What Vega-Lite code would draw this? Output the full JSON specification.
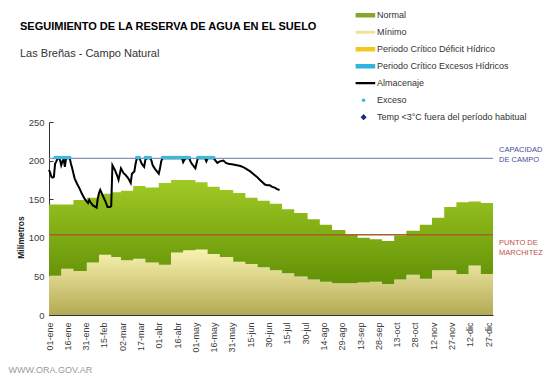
{
  "$schema": "https://vega.github.io/schema/vega-lite/v6.json",
  "width": 444,
  "height": 193,
  "autosize": {"type": "none"},
  "padding": {"left": 49, "top": 122, "right": 59, "bottom": 65},
  "background": "white",
  "config": {
    "font": "Liberation Sans",
    "view": {"stroke": null},
    "axis": {
      "grid": false,
      "domainColor": "#333333",
      "tickColor": "#333333",
      "tickSize": -4,
      "labelColor": "#404040",
      "labelOverlap": false,
      "labelFlush": false
    },
    "axisX": {
      "labelAngle": -90,
      "labelFontSize": 9,
      "labelPadding": 11,
      "titleX": -41,
      "titleY": 57,
      "titleAlign": "left",
      "titleBaseline": "alphabetic",
      "titleFontSize": 9,
      "titleFontWeight": "normal",
      "titleColor": "#9a9a9a"
    },
    "axisY": {
      "labelFontSize": 9.5,
      "labelPadding": 9,
      "titleFontSize": 8.5,
      "titleFontWeight": "bold",
      "titleColor": "#222222",
      "titleX": -29,
      "titleY": 115,
      "titleAngle": -90,
      "titleAlign": "center",
      "titleBaseline": "middle"
    },
    "legend": {
      "orient": "none",
      "legendX": 306.6,
      "legendY": -115,
      "padding": 0,
      "rowPadding": 0,
      "clipHeight": 16.3,
      "symbolSize": 256,
      "symbolStrokeWidth": 0,
      "labelFontSize": 9,
      "labelColor": "#333333",
      "labelOffset": 5.4,
      "labelLimit": 250
    }
  },
  "title": {
    "text": "SEGUIMIENTO DE LA RESERVA DE AGUA EN EL SUELO",
    "subtitle": "Las Breñas - Campo Natural",
    "anchor": "start",
    "frame": "group",
    "dx": -29,
    "fontSize": 11,
    "fontWeight": "bold",
    "color": "#000000",
    "subtitleFontSize": 11,
    "subtitleColor": "#333333",
    "subtitlePadding": 16,
    "offset": -52
  },
  "datasets": {
    "decadas": [
      {"dia": 0, "mx": 143, "mn": 51},
      {"dia": 10, "mx": 143, "mn": 60},
      {"dia": 20, "mx": 149, "mn": 57},
      {"dia": 31, "mx": 152, "mn": 68},
      {"dia": 41, "mx": 157, "mn": 78},
      {"dia": 51, "mx": 159, "mn": 75},
      {"dia": 59, "mx": 161, "mn": 71},
      {"dia": 69, "mx": 167, "mn": 73},
      {"dia": 79, "mx": 165, "mn": 68},
      {"dia": 90, "mx": 171, "mn": 65},
      {"dia": 100, "mx": 175, "mn": 81},
      {"dia": 110, "mx": 175, "mn": 84},
      {"dia": 120, "mx": 172, "mn": 85},
      {"dia": 130, "mx": 166, "mn": 79},
      {"dia": 140, "mx": 162, "mn": 75},
      {"dia": 151, "mx": 158, "mn": 69},
      {"dia": 161, "mx": 152, "mn": 66},
      {"dia": 171, "mx": 148, "mn": 62},
      {"dia": 181, "mx": 144, "mn": 58},
      {"dia": 191, "mx": 137, "mn": 54},
      {"dia": 201, "mx": 132, "mn": 50},
      {"dia": 212, "mx": 124, "mn": 46},
      {"dia": 222, "mx": 117, "mn": 43},
      {"dia": 232, "mx": 110, "mn": 41},
      {"dia": 243, "mx": 104, "mn": 41},
      {"dia": 253, "mx": 100, "mn": 42},
      {"dia": 263, "mx": 98, "mn": 43},
      {"dia": 273, "mx": 96, "mn": 40},
      {"dia": 283, "mx": 103, "mn": 46},
      {"dia": 293, "mx": 109, "mn": 52},
      {"dia": 304, "mx": 117, "mn": 47},
      {"dia": 314, "mx": 126, "mn": 58},
      {"dia": 324, "mx": 140, "mn": 58},
      {"dia": 334, "mx": 146, "mn": 53},
      {"dia": 344, "mx": 147, "mn": 64},
      {"dia": 354, "mx": 145, "mn": 53},
      {"dia": 364, "mx": 145, "mn": 53}
    ],
    "almacenaje": [
      {"dia": 0, "mm": 188}, {"dia": 1, "mm": 184}, {"dia": 2, "mm": 179}, {"dia": 3, "mm": 178},
      {"dia": 4, "mm": 179}, {"dia": 5, "mm": 196}, {"dia": 6, "mm": 199}, {"dia": 7, "mm": 203},
      {"dia": 8, "mm": 203}, {"dia": 9, "mm": 201}, {"dia": 10, "mm": 194}, {"dia": 11, "mm": 199},
      {"dia": 12, "mm": 202}, {"dia": 13, "mm": 192}, {"dia": 14, "mm": 203}, {"dia": 15, "mm": 203},
      {"dia": 16, "mm": 203}, {"dia": 17, "mm": 203}, {"dia": 18, "mm": 196}, {"dia": 19, "mm": 190},
      {"dia": 21, "mm": 177}, {"dia": 23, "mm": 170}, {"dia": 25, "mm": 164}, {"dia": 27, "mm": 157},
      {"dia": 29, "mm": 151}, {"dia": 31, "mm": 147}, {"dia": 32, "mm": 145}, {"dia": 33, "mm": 149},
      {"dia": 34, "mm": 146}, {"dia": 36, "mm": 142}, {"dia": 38, "mm": 140}, {"dia": 39, "mm": 139},
      {"dia": 40, "mm": 151}, {"dia": 41, "mm": 158}, {"dia": 42, "mm": 162}, {"dia": 44, "mm": 155},
      {"dia": 46, "mm": 148}, {"dia": 48, "mm": 140}, {"dia": 50, "mm": 140}, {"dia": 51, "mm": 141},
      {"dia": 52, "mm": 194}, {"dia": 54, "mm": 188}, {"dia": 56, "mm": 180}, {"dia": 57, "mm": 175},
      {"dia": 59, "mm": 190}, {"dia": 61, "mm": 184}, {"dia": 63, "mm": 181}, {"dia": 65, "mm": 177},
      {"dia": 67, "mm": 171}, {"dia": 68, "mm": 183}, {"dia": 70, "mm": 186}, {"dia": 71, "mm": 196},
      {"dia": 72, "mm": 203}, {"dia": 73, "mm": 203}, {"dia": 74, "mm": 203}, {"dia": 75, "mm": 200},
      {"dia": 76, "mm": 196}, {"dia": 78, "mm": 192}, {"dia": 79, "mm": 201}, {"dia": 80, "mm": 203},
      {"dia": 81, "mm": 203}, {"dia": 82, "mm": 203}, {"dia": 83, "mm": 203}, {"dia": 84, "mm": 200},
      {"dia": 85, "mm": 194}, {"dia": 87, "mm": 189}, {"dia": 88, "mm": 187}, {"dia": 90, "mm": 183},
      {"dia": 91, "mm": 190}, {"dia": 92, "mm": 199}, {"dia": 93, "mm": 203}, {"dia": 109, "mm": 203},
      {"dia": 110, "mm": 198}, {"dia": 111, "mm": 201}, {"dia": 112, "mm": 203}, {"dia": 115, "mm": 203},
      {"dia": 116, "mm": 199}, {"dia": 117, "mm": 196}, {"dia": 118, "mm": 194}, {"dia": 119, "mm": 192},
      {"dia": 120, "mm": 190}, {"dia": 121, "mm": 197}, {"dia": 122, "mm": 203}, {"dia": 128, "mm": 203},
      {"dia": 129, "mm": 199}, {"dia": 130, "mm": 203}, {"dia": 135, "mm": 203}, {"dia": 136, "mm": 201},
      {"dia": 138, "mm": 197}, {"dia": 140, "mm": 199}, {"dia": 143, "mm": 200}, {"dia": 145, "mm": 197},
      {"dia": 147, "mm": 196}, {"dia": 151, "mm": 195}, {"dia": 154, "mm": 194}, {"dia": 157, "mm": 193},
      {"dia": 160, "mm": 191}, {"dia": 162, "mm": 189}, {"dia": 165, "mm": 186}, {"dia": 168, "mm": 182},
      {"dia": 171, "mm": 178}, {"dia": 173, "mm": 175}, {"dia": 175, "mm": 172}, {"dia": 177, "mm": 169},
      {"dia": 179, "mm": 168}, {"dia": 181, "mm": 168}, {"dia": 183, "mm": 166}, {"dia": 185, "mm": 165},
      {"dia": 187, "mm": 163}, {"dia": 189, "mm": 162}
    ],
    "exceso": [
      {"dia": 5, "mm": 204, "serie": "Exceso"}, {"dia": 6, "mm": 204, "serie": "Exceso"},
      {"dia": 7, "mm": 204, "serie": "Exceso"}, {"dia": 8, "mm": 204, "serie": "Exceso"},
      {"dia": 9, "mm": 204, "serie": "Exceso"}, {"dia": 11, "mm": 204, "serie": "Exceso"},
      {"dia": 12, "mm": 204, "serie": "Exceso"}, {"dia": 14, "mm": 204, "serie": "Exceso"},
      {"dia": 15, "mm": 204, "serie": "Exceso"}, {"dia": 16, "mm": 204, "serie": "Exceso"},
      {"dia": 17, "mm": 204, "serie": "Exceso"}, {"dia": 72, "mm": 204, "serie": "Exceso"},
      {"dia": 73, "mm": 204, "serie": "Exceso"}, {"dia": 74, "mm": 204, "serie": "Exceso"},
      {"dia": 79, "mm": 204, "serie": "Exceso"}, {"dia": 80, "mm": 204, "serie": "Exceso"},
      {"dia": 81, "mm": 204, "serie": "Exceso"}, {"dia": 82, "mm": 204, "serie": "Exceso"},
      {"dia": 83, "mm": 204, "serie": "Exceso"}, {"dia": 93, "mm": 204, "serie": "Exceso"},
      {"dia": 94, "mm": 204, "serie": "Exceso"}, {"dia": 95, "mm": 204, "serie": "Exceso"},
      {"dia": 96, "mm": 204, "serie": "Exceso"}, {"dia": 97, "mm": 204, "serie": "Exceso"},
      {"dia": 98, "mm": 204, "serie": "Exceso"}, {"dia": 99, "mm": 204, "serie": "Exceso"},
      {"dia": 100, "mm": 204, "serie": "Exceso"}, {"dia": 101, "mm": 204, "serie": "Exceso"},
      {"dia": 102, "mm": 204, "serie": "Exceso"}, {"dia": 103, "mm": 204, "serie": "Exceso"},
      {"dia": 104, "mm": 204, "serie": "Exceso"}, {"dia": 105, "mm": 204, "serie": "Exceso"},
      {"dia": 106, "mm": 204, "serie": "Exceso"}, {"dia": 107, "mm": 204, "serie": "Exceso"},
      {"dia": 108, "mm": 204, "serie": "Exceso"}, {"dia": 109, "mm": 204, "serie": "Exceso"},
      {"dia": 111, "mm": 204, "serie": "Exceso"}, {"dia": 112, "mm": 204, "serie": "Exceso"},
      {"dia": 113, "mm": 204, "serie": "Exceso"}, {"dia": 114, "mm": 204, "serie": "Exceso"},
      {"dia": 115, "mm": 204, "serie": "Exceso"}, {"dia": 122, "mm": 204, "serie": "Exceso"},
      {"dia": 123, "mm": 204, "serie": "Exceso"}, {"dia": 124, "mm": 204, "serie": "Exceso"},
      {"dia": 125, "mm": 204, "serie": "Exceso"}, {"dia": 126, "mm": 204, "serie": "Exceso"},
      {"dia": 127, "mm": 204, "serie": "Exceso"}, {"dia": 128, "mm": 204, "serie": "Exceso"},
      {"dia": 130, "mm": 204, "serie": "Exceso"}, {"dia": 131, "mm": 204, "serie": "Exceso"},
      {"dia": 132, "mm": 204, "serie": "Exceso"}, {"dia": 133, "mm": 204, "serie": "Exceso"},
      {"dia": 134, "mm": 204, "serie": "Exceso"}, {"dia": 135, "mm": 204, "serie": "Exceso"}
    ],
    "referencias": [
      {"ref": "CC", "mm": 203},
      {"ref": "PMP", "mm": 104}
    ]
  },
  "layer": [
    {
      "data": {"name": "decadas"},
      "mark": {
        "type": "area",
        "interpolate": "step-after",
        "color": {
          "gradient": "linear", "x1": 0, "y1": 0, "x2": 0, "y2": 1,
          "stops": [{"offset": 0, "color": "#f8f3b0"}, {"offset": 1, "color": "#b4aa55"}]
        }
      },
      "encoding": {
        "x": {"field": "dia", "type": "quantitative", "scale": {"domain": [0, 364], "nice": false, "zero": false},
          "axis": {"values": [0, 15, 30, 45, 60, 75, 90, 105, 120, 135, 150, 165, 180, 195, 210, 225, 240, 255, 270, 285, 300, 315, 330, 345, 360], "labelExpr": "['01-ene','16-ene','31-ene','15-feb','02-mar','17-mar','01-abr','16-abr','01-may','16-may','31-may','15-jun','30-jun','15-jul','30-jul','14-ago','29-ago','13-sep','28-sep','13-oct','28-oct','12-nov','27-nov','12-dic','27-dic'][round(datum.value/15)]", "title": "WWW.ORA.GOV.AR"}},
        "y": {"field": "mn", "type": "quantitative", "scale": {"domain": [0, 250], "nice": false},
          "axis": {"values": [0, 50, 100, 150, 200, 250], "title": "Milímetros"}},
        "y2": {"datum": 0}
      }
    },
    {
      "data": {"name": "decadas"},
      "mark": {
        "type": "area",
        "interpolate": "step-after",
        "color": {
          "gradient": "linear", "x1": 0, "y1": 0, "x2": 0, "y2": 1,
          "stops": [{"offset": 0, "color": "#a0ca24"}, {"offset": 1, "color": "#629006"}]
        }
      },
      "encoding": {
        "x": {"field": "dia", "type": "quantitative", "scale": {"domain": [0, 364], "nice": false, "zero": false},
          "axis": {"values": [0, 15, 30, 45, 60, 75, 90, 105, 120, 135, 150, 165, 180, 195, 210, 225, 240, 255, 270, 285, 300, 315, 330, 345, 360], "labelExpr": "['01-ene','16-ene','31-ene','15-feb','02-mar','17-mar','01-abr','16-abr','01-may','16-may','31-may','15-jun','30-jun','15-jul','30-jul','14-ago','29-ago','13-sep','28-sep','13-oct','28-oct','12-nov','27-nov','12-dic','27-dic'][round(datum.value/15)]", "title": "WWW.ORA.GOV.AR"}},
        "y": {"field": "mx", "type": "quantitative", "scale": {"domain": [0, 250], "nice": false},
          "axis": {"values": [0, 50, 100, 150, 200, 250], "title": "Milímetros"}},
        "y2": {"field": "mn"}
      }
    },
    {
      "data": {"name": "referencias"},
      "transform": [{"filter": "datum.ref === 'CC'"}],
      "mark": {"type": "rule", "color": "#8593b8", "strokeWidth": 1.2},
      "encoding": {
        "y": {"field": "mm", "type": "quantitative", "scale": {"domain": [0, 250], "nice": false},
          "axis": {"values": [0, 50, 100, 150, 200, 250], "title": "Milímetros"}}
      }
    },
    {
      "data": {"name": "referencias"},
      "transform": [{"filter": "datum.ref === 'PMP'"}],
      "mark": {"type": "rule", "color": "#a8602a", "strokeWidth": 1.5},
      "encoding": {
        "y": {"field": "mm", "type": "quantitative", "scale": {"domain": [0, 250], "nice": false},
          "axis": {"values": [0, 50, 100, 150, 200, 250], "title": "Milímetros"}}
      }
    },
    {
      "data": {"name": "almacenaje"},
      "mark": {"type": "line", "color": "#000000", "strokeWidth": 2},
      "encoding": {
        "x": {"field": "dia", "type": "quantitative", "scale": {"domain": [0, 364], "nice": false, "zero": false},
          "axis": {"values": [0, 15, 30, 45, 60, 75, 90, 105, 120, 135, 150, 165, 180, 195, 210, 225, 240, 255, 270, 285, 300, 315, 330, 345, 360], "labelExpr": "['01-ene','16-ene','31-ene','15-feb','02-mar','17-mar','01-abr','16-abr','01-may','16-may','31-may','15-jun','30-jun','15-jul','30-jul','14-ago','29-ago','13-sep','28-sep','13-oct','28-oct','12-nov','27-nov','12-dic','27-dic'][round(datum.value/15)]", "title": "WWW.ORA.GOV.AR"}},
        "y": {"field": "mm", "type": "quantitative", "scale": {"domain": [0, 250], "nice": false},
          "axis": {"values": [0, 50, 100, 150, 200, 250], "title": "Milímetros"}}
      }
    },
    {
      "data": {"name": "exceso"},
      "mark": {"type": "point", "filled": true, "opacity": 1, "size": 256},
      "encoding": {
        "x": {"field": "dia", "type": "quantitative", "scale": {"domain": [0, 364], "nice": false, "zero": false},
          "axis": {"values": [0, 15, 30, 45, 60, 75, 90, 105, 120, 135, 150, 165, 180, 195, 210, 225, 240, 255, 270, 285, 300, 315, 330, 345, 360], "labelExpr": "['01-ene','16-ene','31-ene','15-feb','02-mar','17-mar','01-abr','16-abr','01-may','16-may','31-may','15-jun','30-jun','15-jul','30-jul','14-ago','29-ago','13-sep','28-sep','13-oct','28-oct','12-nov','27-nov','12-dic','27-dic'][round(datum.value/15)]", "title": "WWW.ORA.GOV.AR"}},
        "y": {"field": "mm", "type": "quantitative", "scale": {"domain": [0, 250], "nice": false},
          "axis": {"values": [0, 50, 100, 150, 200, 250], "title": "Milímetros"}},
        "color": {
          "field": "serie", "type": "nominal",
          "scale": {
            "domain": ["Normal", "Mínimo", "Periodo Crítico Déficit Hídrico", "Periodo Crítico Excesos Hídricos", "Almacenaje", "Exceso", "Temp <3°C fuera del período habitual"],
            "range": ["#86a62c", "#ece3a0", "#f2c81e", "#2fb4e0", "#000000", "#3cb9dc", "#1b2a7e"]
          },
          "legend": {"title": null}
        },
        "shape": {
          "field": "serie", "type": "nominal",
          "scale": {
            "domain": ["Normal", "Mínimo", "Periodo Crítico Déficit Hídrico", "Periodo Crítico Excesos Hídricos", "Almacenaje", "Exceso", "Temp <3°C fuera del período habitual"],
            "range": [
              "M-1.45,-0.28H1.45V0.28H-1.45Z",
              "M-1.45,-0.19H1.45V0.19H-1.45Z",
              "M-1.45,-0.28H1.45V0.28H-1.45Z",
              "M-1.45,-0.28H1.45V0.28H-1.45Z",
              "M-1.45,-0.13H1.45V0.13H-1.45Z",
              "M0.22,0A0.22,0.22,0,1,1,-0.22,0A0.22,0.22,0,1,1,0.22,0Z",
              "M0,-0.38L0.38,0L0,0.38L-0.38,0Z"
            ]
          },
          "legend": {"title": null}
        }
      }
    },
    {
      "data": {"name": "referencias"},
      "transform": [{"filter": "datum.ref === 'CC'"}],
      "mark": {"type": "text", "text": ["CAPACIDAD", "DE  CAMPO"], "align": "left", "baseline": "middle", "fontSize": 7.5, "lineHeight": 10, "dy": -8, "color": "#3f4f96"},
      "encoding": {
        "x": {"datum": 369, "type": "quantitative", "scale": {"domain": [0, 364], "nice": false, "zero": false},
          "axis": {"values": [0, 15, 30, 45, 60, 75, 90, 105, 120, 135, 150, 165, 180, 195, 210, 225, 240, 255, 270, 285, 300, 315, 330, 345, 360], "labelExpr": "['01-ene','16-ene','31-ene','15-feb','02-mar','17-mar','01-abr','16-abr','01-may','16-may','31-may','15-jun','30-jun','15-jul','30-jul','14-ago','29-ago','13-sep','28-sep','13-oct','28-oct','12-nov','27-nov','12-dic','27-dic'][round(datum.value/15)]", "title": "WWW.ORA.GOV.AR"}},
        "y": {"field": "mm", "type": "quantitative", "scale": {"domain": [0, 250], "nice": false},
          "axis": {"values": [0, 50, 100, 150, 200, 250], "title": "Milímetros"}}
      }
    },
    {
      "data": {"name": "referencias"},
      "transform": [{"filter": "datum.ref === 'PMP'"}],
      "mark": {"type": "text", "text": ["PUNTO  DE", "MARCHITEZ"], "align": "left", "baseline": "middle", "fontSize": 7.5, "lineHeight": 10, "dy": 8, "color": "#c0504d"},
      "encoding": {
        "x": {"datum": 369, "type": "quantitative", "scale": {"domain": [0, 364], "nice": false, "zero": false},
          "axis": {"values": [0, 15, 30, 45, 60, 75, 90, 105, 120, 135, 150, 165, 180, 195, 210, 225, 240, 255, 270, 285, 300, 315, 330, 345, 360], "labelExpr": "['01-ene','16-ene','31-ene','15-feb','02-mar','17-mar','01-abr','16-abr','01-may','16-may','31-may','15-jun','30-jun','15-jul','30-jul','14-ago','29-ago','13-sep','28-sep','13-oct','28-oct','12-nov','27-nov','12-dic','27-dic'][round(datum.value/15)]", "title": "WWW.ORA.GOV.AR"}},
        "y": {"field": "mm", "type": "quantitative", "scale": {"domain": [0, 250], "nice": false},
          "axis": {"values": [0, 50, 100, 150, 200, 250], "title": "Milímetros"}}
      }
    }
  ]
}
